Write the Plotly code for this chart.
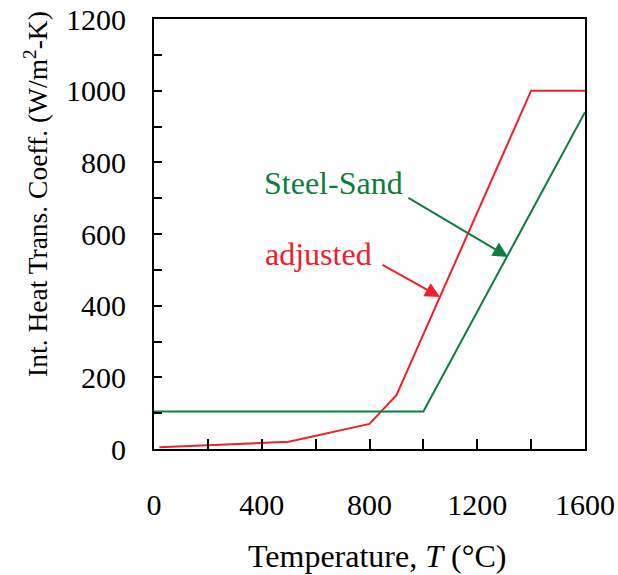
import plotly.graph_objects as go

# Interfacial heat transfer coefficient vs. temperature
adjusted_T = [20, 500, 800, 900, 1400, 1600]
adjusted_h = [5, 20, 70, 150, 1000, 1000]

steel_sand_T = [0, 1000, 1600]
steel_sand_h = [105, 105, 940]

RED = "#f0202a"
GREEN = "#0e7c3e"
FONT = "Liberation Serif"

fig = go.Figure()
fig.add_trace(go.Scatter(x=adjusted_T, y=adjusted_h, mode="lines",
                         line=dict(color=RED, width=2), name="adjusted"))
fig.add_trace(go.Scatter(x=steel_sand_T, y=steel_sand_h, mode="lines",
                         line=dict(color=GREEN, width=2), name="Steel-Sand"))

# Curve labels with arrows pointing at their lines
fig.add_annotation(x=668, y=742, text="Steel-Sand", showarrow=False,
                   font=dict(family=FONT, size=32, color=GREEN))
fig.add_annotation(x=1314, y=536, ax=939, ay=703, axref="x", ayref="y",
                   text="", showarrow=True, arrowhead=2, arrowsize=1.5,
                   arrowwidth=2, arrowcolor=GREEN)
fig.add_annotation(x=612, y=544, text="adjusted", showarrow=False,
                   font=dict(family=FONT, size=32, color=RED))
fig.add_annotation(x=1062, y=424, ax=843, ay=516, axref="x", ayref="y",
                   text="", showarrow=True, arrowhead=2, arrowsize=1.5,
                   arrowwidth=2, arrowcolor=RED)

# Axis titles
fig.add_annotation(xref="paper", yref="paper", x=-0.274, y=0.593,
                   text="Int. Heat Trans. Coeff. (W/m<sup>2</sup>-K)",
                   textangle=-90, showarrow=False, xanchor="center", yanchor="middle",
                   font=dict(family=FONT, size=27.5, color="black"))
fig.add_annotation(xref="paper", yref="paper", x=0.517, y=-0.249,
                   text="Temperature, <i>T</i> (°C)",
                   showarrow=False, xanchor="center", yanchor="middle",
                   font=dict(family=FONT, size=32, color="black"))

fig.update_layout(
    width=618, height=575,
    margin=dict(l=154, r=33, t=19, b=126),
    paper_bgcolor="white", plot_bgcolor="white",
    showlegend=False,
    font=dict(family=FONT, color="black"),
)
fig.update_xaxes(
    range=[0, 1600], dtick=400, tick0=0, automargin=False,
    ticks="inside", ticklen=10, tickwidth=1.5, tickcolor="black",
    minor=dict(dtick=200, ticks="inside", ticklen=10, tickwidth=1.5, tickcolor="black"),
    showline=True, linewidth=2, linecolor="black", mirror=True,
    showgrid=False, zeroline=False,
    tickfont=dict(family=FONT, size=30, color="black"),
    ticklabelstandoff=28,
)
fig.update_yaxes(
    range=[0, 1200], dtick=200, tick0=0, automargin=False,
    ticks="inside", ticklen=8, tickwidth=1.5, tickcolor="black",
    minor=dict(dtick=100, ticks="inside", ticklen=8, tickwidth=1.5, tickcolor="black"),
    showline=True, linewidth=2, linecolor="black", mirror=True,
    showgrid=False, zeroline=False,
    tickfont=dict(family=FONT, size=30, color="black"),
    ticklabelstandoff=20,
)

fig.write_html("out.html")
